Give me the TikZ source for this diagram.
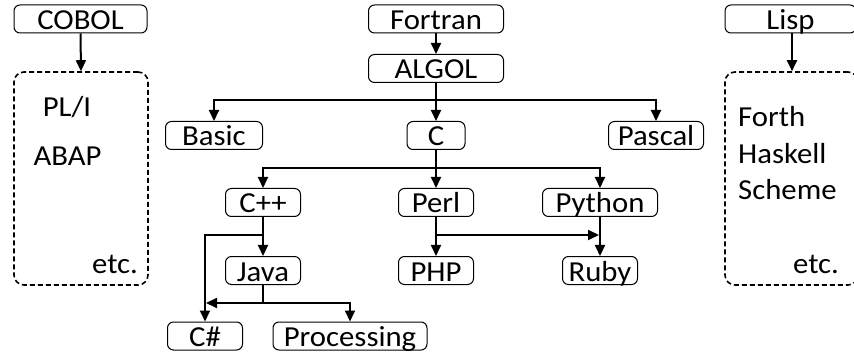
\documentclass[tikz,border=0pt]{standalone}
\usepackage{fontspec}
\setmainfont{Carlito}[FakeStretch=1.06]
\usetikzlibrary{arrows.meta}
\tikzset{
  lang/.style={draw, line width=1pt, rounded corners=6pt, inner sep=0pt,
    minimum height=28pt, text height=21pt, text depth=0pt, font=\fontsize{29}{32}\selectfont},
  group/.style={draw, line width=1.6pt, dash pattern=on 5pt off 3pt, rounded corners=10pt,
    inner sep=0pt},
  free/.style={anchor=base, inner sep=0pt, font=\fontsize{29}{32}\selectfont},
  conn/.style={line width=2pt, -{Triangle[length=11pt,width=10pt]}},
  thinline/.style={line width=1.1pt}
}
\begin{document}
\begin{tikzpicture}[x=1pt,y=-1pt]
\useasboundingbox (0,0) rectangle (854,358);
\begin{scope}
\clip (0,0) rectangle (854,358);
% nodes
\node[lang, minimum width=133pt] (cobol) at (80.5,19) {COBOL};
\node[lang, minimum width=135pt] (fortran) at (436,19) {Fortran};
\node[lang, minimum width=135pt] (algol) at (436,68.5) {ALGOL};
\node[lang, minimum width=131pt] (lisp) at (790.5,19) {Lisp};
\node[lang, minimum width=97pt] (basic) at (214,135.5) {Basic};
\node[lang, minimum width=58pt] (c) at (436,135.5) {C};
\node[lang, minimum width=95pt] (pascal) at (656,135.5) {Pascal};
\node[lang, minimum width=75pt] (cpp) at (263,202.5) {C++};
\node[lang, minimum width=75pt] (perl) at (436,202.5) {Perl};
\node[lang, minimum width=115pt] (python) at (600,202.5) {Python};
\node[lang, minimum width=75pt] (java) at (263,270.5) {Java};
\node[lang, minimum width=75pt] (php) at (436,270.5) {PHP};
\node[lang, minimum width=75pt] (ruby) at (600,270.5) {Ruby};
\node[lang, minimum width=75pt] (csharp) at (205,336) {C\#};
\node[lang, minimum width=154pt] (processing) at (350,336) {Processing};
% groups
\node[group, minimum width=134pt, minimum height=213pt] (cobolgrp) at (81,178.5) {};
\node[group, minimum width=133pt, minimum height=213pt] (lispgrp) at (791.5,178.5) {};
\node[free] (pli) at (67,117) {PL/I};
\node[free] (abap) at (67.5,166) {ABAP};
\node[free] (etc1) at (115,273) {etc.};
\node[free, anchor=base west] (forth) at (738,127) {Forth};
\node[free, anchor=base west] (haskell) at (738,164) {Haskell};
\node[free, anchor=base west] (scheme) at (738,200) {Scheme};
\node[free] (etc2) at (816,273) {etc.};
% junctions
\coordinate (j1) at (436,100);
\coordinate (j2) at (436,168);
\coordinate (j3) at (263,235);
\coordinate (j4) at (263,303);
\coordinate (j5) at (206,303);
\coordinate (j6) at (436,235);
\coordinate (j7) at (599,235);
% connectors
\draw[conn] (cobol.south) -- (cobolgrp.north);
\draw[conn] (lisp.south -| 792,0) -- (lispgrp.north -| 792,0);
\draw[conn] (fortran) -- (algol);
\draw[conn] (algol) -- (c);
\draw[conn] (j1) -| (basic.north);
\draw[conn] (j1) -| (pascal.north);
\draw[conn] (c) -- (perl);
\draw[conn] (j2) -| (cpp.north);
\draw[conn] (j2) -| (python.north);
\draw[conn] (cpp) -- (java);
\draw[conn] (j3) -| (csharp.north);
\draw[thinline] (java.south) -- (j4);
\draw[conn] (j4) -- (j5);
\draw[conn] (j4) -| (processing.north);
\draw[conn] (perl) -- (php);
\draw[conn] (j6) -- (j7);
\draw[conn] (python) -- (ruby);
\end{scope}
\end{tikzpicture}
\end{document}
